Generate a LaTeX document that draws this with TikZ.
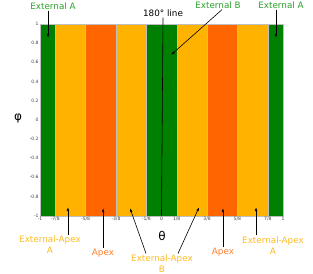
\documentclass[tikz,border=0pt]{standalone}
\usepackage{fontspec}
\setmainfont{DejaVu Sans}
\usetikzlibrary{arrows.meta,positioning}
\definecolor{bandgreen}{HTML}{008000}
\definecolor{bandorange}{HTML}{FFB300}
\definecolor{bandred}{HTML}{FF6600}
\definecolor{txtgreen}{HTML}{2CA02C}
\definecolor{txtorange}{HTML}{FFBB22}
\definecolor{txtred}{HTML}{FF7F2A}

\begin{document}
\begin{tikzpicture}[x=1pt,y=1pt,
 lbl/.style={inner sep=1pt,align=center,font=\fontsize{8.8}{11}\selectfont},
 tick/.style={inner sep=1.2pt,font=\fontsize{4.5}{5}\selectfont,text=black!75},
 band/.style={draw=black!25,line width=0.25pt},
 arr/.style={-{Latex[length=4pt,width=2.6pt]},line width=0.6pt}]
\useasboundingbox (0,0) rectangle (313,273);

% plot in data coordinates
\begin{scope}[shift={(161.5,153.15)},x=121.5pt,y=95.85pt]
\foreach \a/\b/\c in {-1/-0.875/bandgreen,-0.875/-0.625/bandorange,-0.625/-0.375/bandred,
 -0.375/-0.125/bandorange,-0.125/0.125/bandgreen,0.125/0.375/bandorange,
 0.375/0.625/bandred,0.625/0.875/bandorange,0.875/1/bandgreen}
 \fill[\c,band] (\a,-1) rectangle (\b,1);
\foreach \y in {-1,-0.8,-0.6,-0.4,-0.2,0,0.2,0.4,0.6,0.8,1}
 \node[tick,anchor=east] at (-1,\y) {\y};
\foreach \x/\t in {-1/-1,-0.875/-7\slash8,-0.625/-5\slash8,-0.375/-3\slash8,-0.125/-1\slash8,
 0/0,0.125/1\slash8,0.375/3\slash8,0.625/5\slash8,0.875/7\slash8,1/1}
 \node[tick,anchor=north] at (\x,-1) {\t};
% arrow targets
\coordinate (tExAL) at (-0.934,0.854);
\coordinate (tExB) at (0.078,0.677);
\coordinate (tExAR) at (0.942,0.854);
\coordinate (tEaAL) at (-0.77,-0.91);
\coordinate (tApL) at (-0.48,-0.92);
\coordinate (tEaBL) at (-0.26,-0.92);
\coordinate (tEaBR) at (0.31,-0.91);
\coordinate (tApR) at (0.506,-0.92);
\coordinate (tEaAR) at (0.778,-0.91);
\coordinate (lineBot) at (0,-1);
\end{scope}

\node[font=\fontsize{12}{12}\selectfont] (phi) at (18,155) {φ};
\node[font=\fontsize{12}{12}\selectfont] (theta) at (162,37) {θ};

\node[lbl,text=txtgreen] (extAL) at (53,267) {External A};
\node[lbl] (lineLbl) at (163,260) {180° line};
\node[lbl,text=txtgreen] (extB) at (218,268) {External B};
\node[lbl,text=txtgreen] (extAR) at (281,268) {External A};

\node[lbl,text=txtorange] (eaAL) at (50,28) {External-Apex\\A};
\node[lbl,text=txtred] (apexL) at (103,20) {Apex};
\node[lbl,text=txtorange] (eaB) at (162,9.5) {External-Apex\\B};
\node[lbl,text=txtred] (apexR) at (223,21) {Apex};
\node[lbl,text=txtorange] (eaAR) at (273,27.5) {External-Apex\\A};

\draw[line width=0.6pt] (lineLbl.south) -- (lineBot);
\draw[arr] (extAL.south -| tExAL) -- (tExAL);
\draw[arr] ([xshift=4pt]extB.south) -- (tExB);
\draw[arr] (extAR.south -| tExAR) -- (tExAR);
\draw[arr] (eaAL.north -| tEaAL) -- (tEaAL);
\draw[arr] (apexL.north -| tApL) -- (tApL);
\draw[arr] ([xshift=-16pt]eaB.north) -- (tEaBL);
\draw[arr] ([xshift=16pt]eaB.north) -- (tEaBR);
\draw[arr] (apexR.north -| tApR) -- (tApR);
\draw[arr] (eaAR.north -| tEaAR) -- (tEaAR);
\end{tikzpicture}
\end{document}
